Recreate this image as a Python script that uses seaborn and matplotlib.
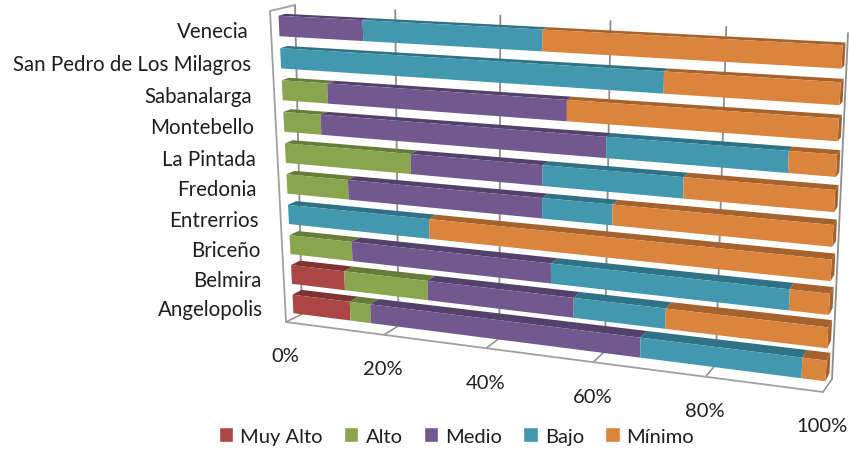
import matplotlib
matplotlib.use("Agg")
import matplotlib.pyplot as plt
from matplotlib.patches import Patch, Polygon
from matplotlib.transforms import Affine2D, Transform
import numpy as np
import pandas as pd
import seaborn as sns

municipios = ["Venecia", "San Pedro de Los Milagros", "Sabanalarga", "Montebello", "La Pintada",
	"Fredonia", "Entrerrios", "Briceño", "Belmira", "Angelopolis"]
muy_alto = [0, 0, 0, 0, 0, 0, 0, 0, 11.1, 12.0]
alto = [0, 0, 9.2, 7.6, 25.2, 12.6, 0, 12.9, 16.8, 4.2]
medio = [16.7, 0, 45.3, 53.9, 24.9, 37.4, 0, 38.7, 27.9, 51.8]
bajo = [33.4, 71.3, 0, 30.8, 24.9, 12.7, 28.5, 41.8, 16.6, 28.0]
minimo = [49.9, 28.7, 45.5, 7.7, 25.0, 37.3, 71.5, 6.6, 27.6, 4.0]
series_names = ["Muy Alto", "Alto", "Medio", "Bajo", "Mínimo"]
series_values = [muy_alto, alto, medio, bajo, minimo]
colors = ["#AA4643", "#89A54E", "#71588F", "#4198AF", "#DB843D"]
dark_colors = ["#7F3331", "#667C39", "#54416B", "#2F7285", "#A5622C"]
tick_values = [0, 20, 40, 60, 80, 100]

WIDTH, HEIGHT = 849, 452
BAR_WIDTH = 0.63


def solve_homography(src, dst):
	rows, rhs = [], []
	for (x, y), (u, v) in zip(src, dst):
		rows.append([x, y, 1, 0, 0, 0, -u * x, -u * y])
		rows.append([0, 0, 0, x, y, 1, -v * x, -v * y])
		rhs += [u, v]
	return np.append(np.linalg.solve(np.array(rows, float), np.array(rhs, float)), 1).reshape(3, 3)


class Perspective(Transform):
	# data -> image pixels, the 3d look of the old excel chart
	input_dims = 2
	output_dims = 2
	is_separable = False
	has_inverse = False

	def __init__(self, src, dst):
		super().__init__()
		self.matrix = solve_homography(src, dst)

	def transform_non_affine(self, values):
		pts = np.column_stack([values, np.ones(len(values))]) @ self.matrix.T
		return pts[:, :2] / pts[:, 2:]


plane = [(0, 0), (100, 0), (100, 9), (0, 9)]
unit = [(0, 0), (100, 0), (100, 1), (0, 1)]
front = Perspective(plane, [(279, 27), (842, 58), (826, 372), (293, 305)])
back = Perspective(plane, [(286, 25), (845, 55), (830, 364), (302, 300)])
wall = Perspective(unit, [(295, 6), (848, 34), (832, 380), (302, 315)])
to_px = Affine2D().scale(1, -1).translate(0, HEIGHT)


def floor_edge(tick):
	# wall foot and the point on the front edge of the floor below it
	foot = wall.transform([(tick, 1)])[0]
	t = tick / 100
	return foot, foot + np.array([-16 + 7 * t, 8 + 5 * t])


sns.set_theme(style="white")
plt.rcParams["font.family"] = ["Lato", "DejaVu Sans"]

fig = plt.figure(figsize=(WIDTH / 100, HEIGHT / 100), dpi=100)
ax = fig.add_axes([0, 0, 1, 1])

df = pd.DataFrame(dict(zip(series_names, series_values)), index=municipios)
left = np.zeros(len(municipios))
for name, color in zip(series_names, colors):
	sns.barplot(x=df[name].values, y=municipios, order=municipios, orient="h", left=left, color=color,
		width=BAR_WIDTH, linewidth=0, saturation=1, ax=ax)
	left = left + df[name].values

bars = list(ax.patches)
dark_by_color = {matplotlib.colors.to_hex(c): d for c, d in zip(colors, dark_colors)}
for bar in bars:
	x0, y0, w, h = bar.get_x(), bar.get_y(), bar.get_width(), bar.get_height()
	if w <= 0:
		continue
	shade = dark_by_color[matplotlib.colors.to_hex(bar.get_facecolor())]
	top = np.vstack([front.transform([(x0, y0), (x0 + w, y0)]), back.transform([(x0 + w, y0), (x0, y0)])])
	ax.add_patch(Polygon(top, closed=True, facecolor=shade, edgecolor="none", transform=to_px, zorder=3))
	if x0 + w > 99.9:
		side = np.vstack([front.transform([(100, y0), (100, y0 + h)]), back.transform([(100, y0 + h), (100, y0)])])
		ax.add_patch(Polygon(side, closed=True, facecolor=shade, edgecolor="none", transform=to_px, zorder=3))
	bar.set_transform(front + to_px)
	bar.set_zorder(4)

# walls and floor, behind the bars
GRID = "#8E8E8E"
for tick in tick_values:
	ax.plot([tick, tick], [0, 1], color=GRID, lw=1.3, transform=wall + to_px, zorder=1, clip_on=False)
	foot, edge = floor_edge(tick)
	ax.plot([foot[0], edge[0]], [foot[1], edge[1]], color=GRID, lw=1.1, transform=to_px, zorder=1)
front_edge = np.array([floor_edge(tick)[1] for tick in tick_values])
ax.plot(front_edge[:, 0], front_edge[:, 1], color="#A0A0A0", lw=1.3, transform=to_px, zorder=1)
left_edge = np.vstack([wall.transform([(0, 0)]), [(270, 12)], floor_edge(0)[1]])
ax.plot(left_edge[:, 0], left_edge[:, 1], color="#A0A0A0", lw=1.3, transform=to_px, zorder=1)

TEXT = "#1F1F1F"
for tick in tick_values:
	px, py = floor_edge(tick)[1]
	ax.text(px - 1, py + 34, f"{tick}%", ha="center", va="center", fontsize=14.5, color=TEXT, transform=to_px)
for row, name in enumerate(municipios):
	px, py = front.transform([(0, row)])[0]
	ax.text(px - 30, py + 5.5, name, ha="right", va="center", fontsize=14.8, color=TEXT, transform=to_px)

handles = [Patch(facecolor=c, label=n) for c, n in zip(colors, series_names)]
ax.legend(handles=handles, ncol=5, loc="center", bbox_to_anchor=(456.5 / WIDTH, 1 - 437 / HEIGHT), frameon=False,
	fontsize=14.5, handlelength=0.72, handleheight=0.72, handletextpad=0.35, columnspacing=1.05, labelcolor=TEXT)

ax.set_xlim(0, WIDTH)
ax.set_ylim(HEIGHT, 0)
ax.set_axis_off()
fig.savefig("out.png", dpi=100)
